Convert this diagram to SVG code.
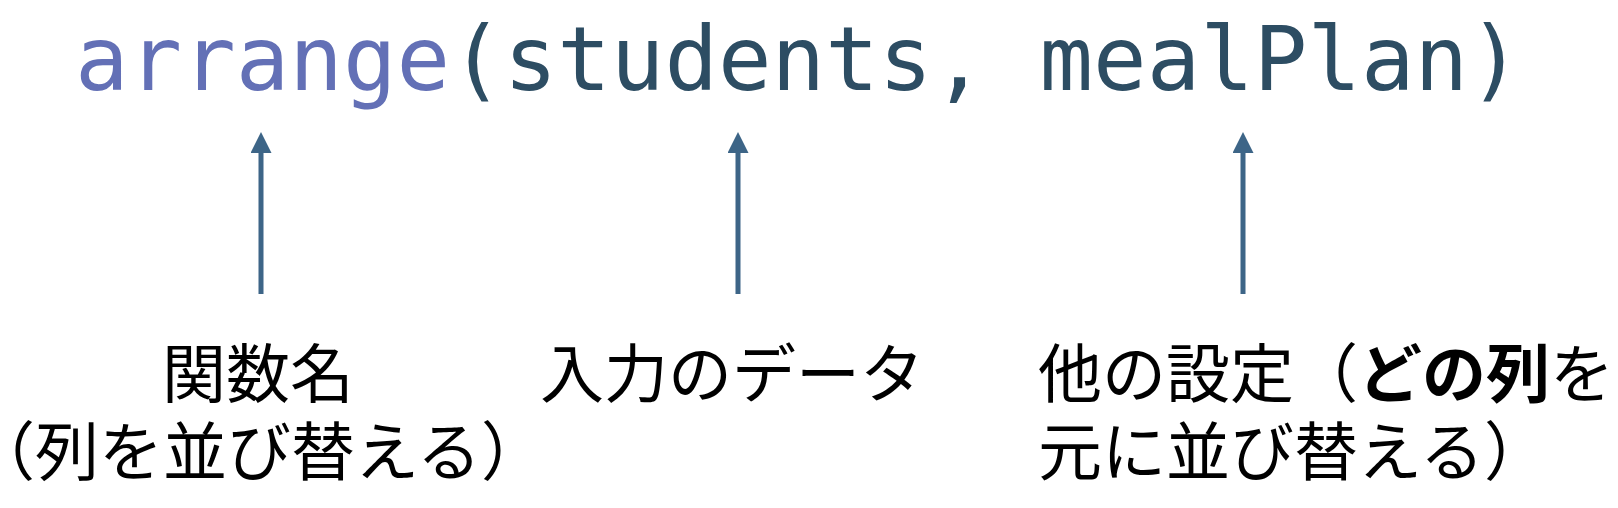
<svg xmlns="http://www.w3.org/2000/svg" width="1618" height="508" viewBox="0 0 1618 508">
<style>
.code{font-family:"DejaVu Sans Mono","Liberation Mono",monospace;font-size:89px;fill:#2d4d63}
.fn{fill:#6370b6}
.lbl{font-family:"Noto Sans CJK JP","Noto Sans",sans-serif;font-size:64px;fill:#000}
.b{font-weight:bold}
.conn line{stroke:#3d6587;stroke-width:5}
</style>
<defs>
<marker id="ah" viewBox="0 0 10 10" refX="0" refY="5" markerWidth="4.2" markerHeight="4.2" orient="auto" markerUnits="strokeWidth">
<path d="M0,0 L10,5 L0,10 z" fill="#3d6587"/>
</marker>
</defs>
<g id="code">
<text class="code" x="75" y="90"><tspan class="fn">arrange</tspan>(students, mealPlan)</text>
</g>
<g id="conns" class="conn">
<line x1="261" y1="294" x2="261" y2="153" marker-end="url(#ah)"/>
<line x1="738" y1="294" x2="738" y2="153" marker-end="url(#ah)"/>
<line x1="1243" y1="294" x2="1243" y2="153" marker-end="url(#ah)"/>
</g>
<g id="label-fn">
<text class="lbl" x="258" y="397" text-anchor="middle">関数名</text>
<text class="lbl" x="258" y="475" text-anchor="middle">（列を並び替える）</text>
</g>
<g id="label-data">
<text class="lbl" x="732" y="397" text-anchor="middle">入力のデータ</text>
</g>
<g id="label-opt">
<text class="lbl" x="1038" y="397">他の設定（<tspan class="b">どの列</tspan>を</text>
<text class="lbl" x="1038" y="475">元に並び替える）</text>
</g>
</svg>
